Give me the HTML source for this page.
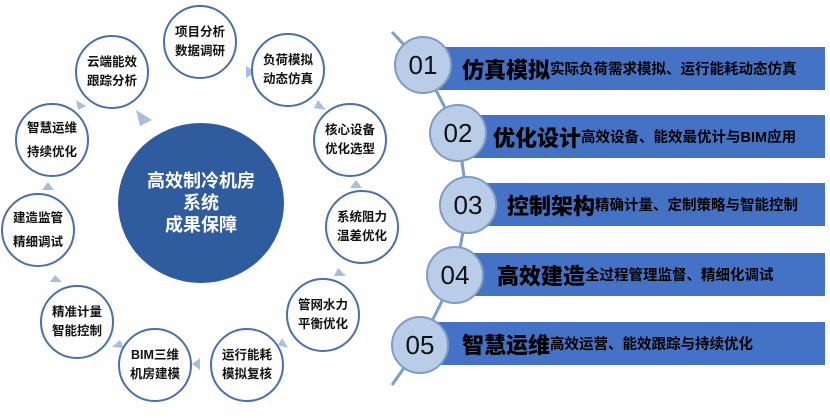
<!DOCTYPE html>
<html><head><meta charset="utf-8"><style>
body{margin:0;width:830px;height:418px;background:#fff;overflow:hidden;position:relative;font-family:"Liberation Sans","Noto Sans CJK SC",sans-serif}
.c{position:absolute;width:74px;height:74px;border:2px solid #4a6fae;border-radius:50%;background:#fff;box-sizing:border-box;display:flex;align-items:center;justify-content:center;text-align:center;font-size:12.5px;font-weight:bold;line-height:19px;color:#111}
.big{position:absolute;left:118px;top:123px;width:166px;height:160px;border-radius:50%;background:#2f5c9e;color:#fff;font-weight:bold;font-size:18px;line-height:22px;display:flex;align-items:center;justify-content:center;text-align:center}
.band{position:absolute;right:5px;height:43px;background:#4472c4;display:flex;align-items:center;color:#000;font-weight:bold;white-space:nowrap}
.band b{font-size:22px;margin-left:25px}
.band span{font-size:14.5px}
.n{position:absolute;width:58px;height:58px;border-radius:50%;background:#b9cde8;border:2px solid #7d9cc9;box-sizing:border-box;display:flex;align-items:center;justify-content:center;font-size:26px;color:#111}
</style></head><body>
<svg style="position:absolute;left:0;top:0" width="830" height="418">
<polyline points="392,32 423,65 458,133 468,205 455,275 420,345 392,385" fill="none" stroke="#7d9cc9" stroke-width="3"/>
<g fill="#a9bde0">
<polygon points="246,66 256,72 246,78"/>
<polygon points="318,100 326,110 314,108"/>
<polygon points="356,180 362,188 350,188"/>
<polygon points="338,268 346,276 334,276"/>
<polygon points="282,338 288,348 278,345"/>
<polygon points="200,358 192,364 200,370"/>
<polygon points="120,340 112,347 124,348"/>
<polygon points="55,275 50,282 62,282"/>
<polygon points="42,190 48,182 54,190"/>
<polygon points="76,100 86,106 78,110"/>
<polygon points="136,110 152,120 140,126"/>
</g>
</svg>
<div class="c" style="left:163px;top:5px">项目分析<br>数据调研</div>
<div class="c" style="left:251px;top:33px">负荷模拟<br>动态仿真</div>
<div class="c" style="left:313px;top:103px">核心设备<br>优化选型</div>
<div class="c" style="left:325px;top:190px">系统阻力<br>温差优化</div>
<div class="c" style="left:286px;top:278px">管网水力<br>平衡优化</div>
<div class="c" style="left:210px;top:328px">运行能耗<br>模拟复核</div>
<div class="c" style="left:118px;top:328px">BIM三维<br>机房建模</div>
<div class="c" style="left:40px;top:285px">精准计量<br>智能控制</div>
<div class="c" style="left:1px;top:193px;line-height:24px">建造监管<br>精细调试</div>
<div class="c" style="left:15px;top:103px;line-height:24px">智慧运维<br>持续优化</div>
<div class="c" style="left:75px;top:35px">云端能效<br>跟踪分析</div>
<div class="big">高效制冷机房<br>系统<br>成果保障</div>
<div class="band" style="left:437px;top:47px"><b>仿真模拟</b><span>实际负荷需求模拟、运行能耗动态仿真</span></div>
<div class="band" style="left:468px;top:115px"><b>优化设计</b><span>高效设备、能效最优计与BIM应用</span></div>
<div class="band" style="left:482px;top:183px"><b>控制架构</b><span>精确计量、定制策略与智能控制</span></div>
<div class="band" style="left:472px;top:253px"><b>高效建造</b><span>全过程管理监督、精细化调试</span></div>
<div class="band" style="left:437px;top:322px"><b>智慧运维</b><span>高效运营、能效跟踪与持续优化</span></div>
<div class="n" style="left:394px;top:36px">01</div>
<div class="n" style="left:429px;top:104px">02</div>
<div class="n" style="left:439px;top:176px">03</div>
<div class="n" style="left:426px;top:246px">04</div>
<div class="n" style="left:391px;top:316px">05</div>
</body></html>
